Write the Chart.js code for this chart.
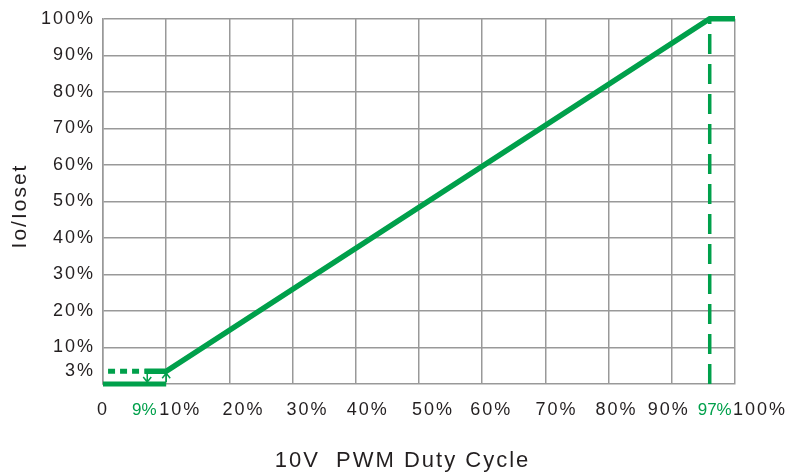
<!DOCTYPE html>
<html>
<head>
<meta charset="utf-8">
<script src="https://cdn.jsdelivr.net/npm/chart.js@4/dist/chart.umd.min.js"></script>
<style>
  html, body { margin: 0; padding: 0; background: #fff; }
  #wrap { width: 793px; height: 472px; }
</style>
</head>
<body>
<div id="wrap"><canvas id="chart"></canvas></div>
<script>
// values
const mainX = [6.6, 10, 96, 100];
const mainY = [3.5, 3.5, 100, 100];
const floorX = [0, 10];
const floorY = [0, 0];
const dottedX = [0.8, 6.6];
const dottedY = [3.5, 3.5];
const dashX = [96, 96];
const dashY = [0, 100];

const yTickValues = [3.5, 10, 20, 30, 40, 50, 60, 70, 80, 90, 100];
const yTickLabels = ['3%', '10%', '20%', '30%', '40%', '50%', '60%', '70%', '80%', '90%', '100%'];
const xTickValues = [0, 10, 20, 30, 40, 50, 60, 70, 80, 90, 100];
const xTickLabels = ['0', '10%', '20%', '30%', '40%', '50%', '60%', '70%', '80%', '90%', '100%'];
const markValues = [7, 96];
const markLabels = ['9%', '97%'];

const GREEN = '#00a04b';
const TEXT = '#231f20';
const FONT = '"Liberation Sans", Arial, sans-serif';
// the labels in the original sit a little left of their gridlines, unevenly
const xLabelNudge = [0, -7, -7, -6, -9, -7, -12, -10, -13, -24, -2];

const pts = (xs, ys) => xs.map((x, i) => ({ x: x, y: ys[i] }));

// x labels, green marks, arrows and both axis titles
const extras = {
  id: 'extras',
  beforeDraw(chart) {
    chart.ctx.letterSpacing = '2px';
  },
  afterDraw(chart) {
    const { ctx, scales: { x, y } } = chart;
    ctx.save();
    ctx.letterSpacing = '2px';
    ctx.font = '18px ' + FONT;
    ctx.textBaseline = 'alphabetic';
    ctx.fillStyle = TEXT;
    const base = y.bottom + 31;
    xTickValues.forEach((v, i) => {
      const px = x.getPixelForValue(v);
      if (i === 0) {
        ctx.textAlign = 'center';
        ctx.fillText(xTickLabels[i], px, base);
      } else {
        ctx.textAlign = 'left';
        ctx.fillText(xTickLabels[i], px + xLabelNudge[i], base);
      }
    });

    ctx.letterSpacing = '0px';
    ctx.fillStyle = GREEN;
    ctx.font = '17px ' + FONT;
    ctx.textAlign = 'center';
    ctx.fillText(markLabels[0], x.getPixelForValue(markValues[0]) - 3, base);
    ctx.fillText(markLabels[1], x.getPixelForValue(markValues[1]) + 5, base);

    // titles
    ctx.letterSpacing = '2px';
    ctx.fillStyle = TEXT;
    ctx.font = '22px ' + FONT;
    ctx.fillText('10V  PWM Duty Cycle', chart.width / 2 + 6, 467);
    ctx.save();
    ctx.translate(26, 206);
    ctx.rotate(-Math.PI / 2);
    ctx.font = '21px ' + FONT;
    ctx.fillText('Io/Ioset', 0, 0);
    ctx.restore();

    // arrows: down at 9%, up at 10%
    const top = y.getPixelForValue(3.5) + 2;
    const bot = y.getPixelForValue(0) - 2;
    ctx.strokeStyle = GREEN;
    ctx.lineWidth = 1.5;
    const arrow = (px, from, to) => {
      const d = to > from ? -1 : 1;
      ctx.beginPath();
      ctx.moveTo(px, from);
      ctx.lineTo(px, to);
      ctx.moveTo(px - 4, to + d * 5);
      ctx.lineTo(px, to);
      ctx.lineTo(px + 4, to + d * 5);
      ctx.stroke();
    };
    arrow(x.getPixelForValue(markValues[0]), top, bot);
    arrow(x.getPixelForValue(10), bot, top);
    ctx.restore();
  }
};

new Chart(document.getElementById('chart'), {
  type: 'scatter',
  data: {
    datasets: [
      { data: pts(mainX, mainY), showLine: true, clip: false, borderColor: GREEN, borderWidth: 5.5, pointRadius: 0, borderCapStyle: 'butt' },
      { data: pts(floorX, floorY), showLine: true, clip: false, borderColor: GREEN, borderWidth: 5, pointRadius: 0, borderCapStyle: 'butt' },
      { data: pts(dottedX, dottedY), showLine: true, clip: false, borderColor: GREEN, borderWidth: 5, pointRadius: 0, borderDash: [7, 5] },
      { data: pts(dashX, dashY), showLine: true, clip: false, borderColor: GREEN, borderWidth: 3.5, pointRadius: 0, borderDash: [20, 10] }
    ]
  },
  options: {
    responsive: true,
    maintainAspectRatio: false,
    animation: false,
    layout: { padding: { top: 17, right: 58, bottom: 0, left: 0 } },
    plugins: { legend: { display: false }, tooltip: { enabled: false } },
    scales: {
      x: {
        type: 'linear', min: 0, max: 100,
        afterBuildTicks: (s) => { s.ticks = xTickValues.map(v => ({ value: v })); },
        afterFit: (s) => { s.height = 88; },
        ticks: { display: false },
        grid: { color: '#999', lineWidth: 1.5, drawTicks: false },
        border: { color: '#999', width: 1.5 }
      },
      y: {
        type: 'linear', min: 0, max: 100,
        afterBuildTicks: (s) => { s.ticks = yTickValues.map(v => ({ value: v })); },
        afterFit: (s) => { s.width = 103; },
        ticks: {
          color: TEXT, padding: 8, font: { family: FONT, size: 18 },
          callback: (v) => yTickLabels[yTickValues.indexOf(v)]
        },
        grid: {
          color: (c) => (c.tick && c.tick.value === 3.5 ? 'rgba(0,0,0,0)' : '#999'),
          lineWidth: 1.5, drawTicks: false
        },
        border: { color: '#999', width: 1.5 }
      }
    }
  },
  plugins: [extras]
});
</script>
</body>
</html>
